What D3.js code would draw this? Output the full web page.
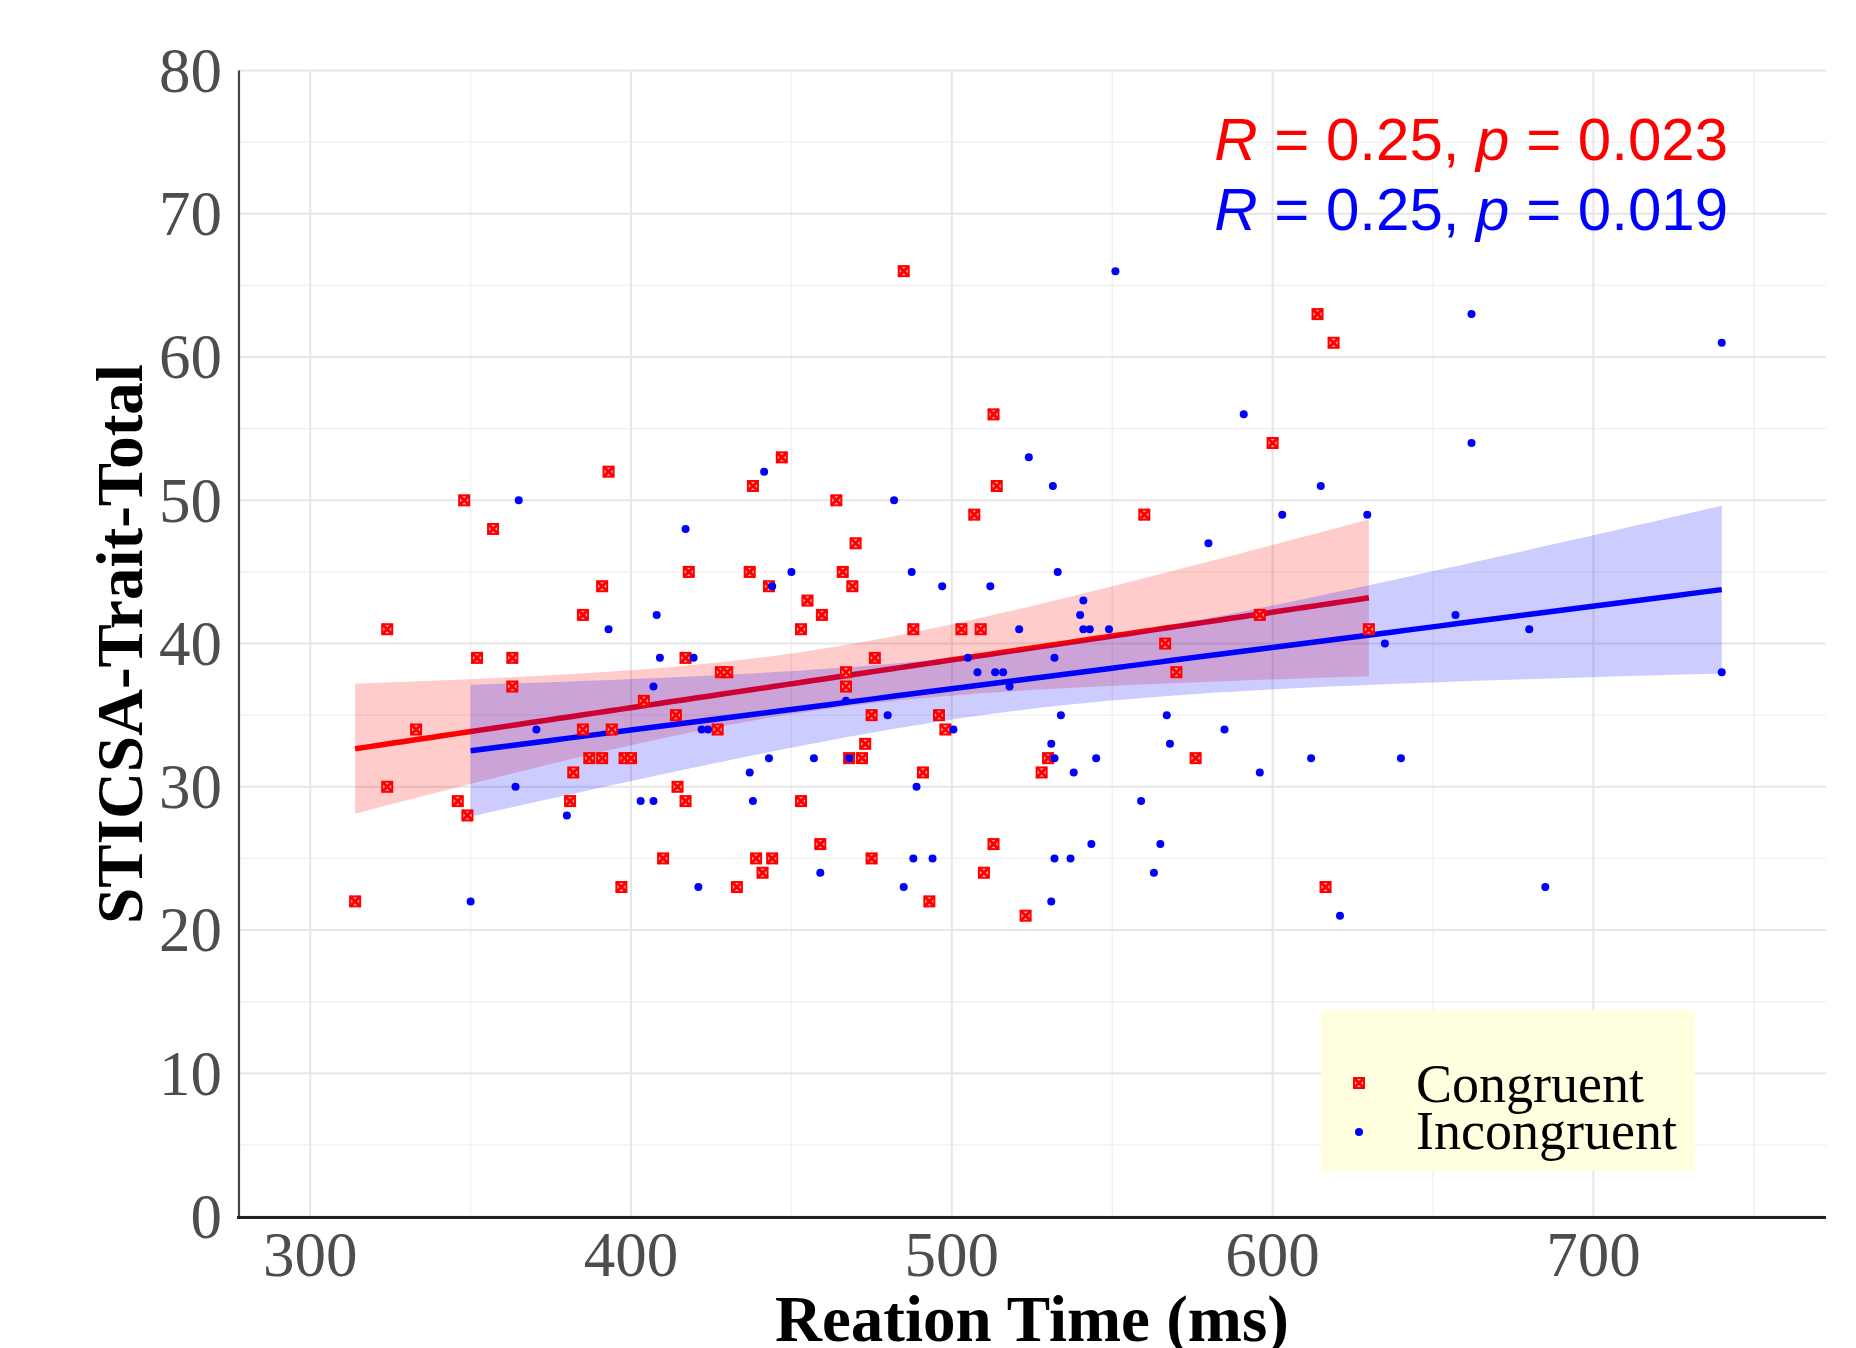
<!DOCTYPE html>
<html>
<head>
<meta charset="utf-8">
<script src="https://cdn.jsdelivr.net/npm/d3@7"></script>
<style>
  body { margin: 0; background: #fff; }
  svg { display: block; }
</style>
</head>
<body>
<div id="chart"></div>
<script>
// reaction time (ms) and STICSA trait score
let congruentRT = [393,348,357,447,438,418,437,391,443,455, 485,513,514,507,560,464,470,466,469,600,
    614,619,324,385,352,363,363,333,324,346, 349,314,417,428,430,404,414,385,394,427,
    387,391,398,400,382,381,414.5,417,453,410, 439,444,441,397,433,453,459.5,488,503,509,
    476,467,467,475,496,498,473,468,472,491, 459,475,493,513,510,523,528,530,566.5,570,
    576,596,630,616.5];
let congruentScore = [52,50,48,53,51,45,45,44,44,43, 66,56,51,49,49,50,47,45,44,54,
    63,61,41,42,39,39,37,34,30,29, 28,22,39,38,38,36,35,34,34,34,
    32,32,32,32,31,29,30,29,29,25, 25,25,24,23,23,41,42,41,41,41,
    39,38,37,35,35,34,33,32,32,31, 26,25,22,26,24,21,31,32,40,38,
    32,42,41,23];
let incongruentRT = [365,441.5,417,450,444,551,591,524,531.5,482, 580,487.5,533,497,512,541,662,740,662,615,
    603,629.5,408,393,409,419.5,407,370.5,422,424, 443,437,364,403,407,438,380,421,350,540,
    541,543,549,521,505,532,508,513.5,516,518, 467,480,534,500.5,457,468,531,532,545,538,
    489,567,585,568,596,559,543.5,565,488,494, 532,537,459,485,563,531,657,680,635,740,
    612,640,685,621];
let incongruentScore = [50,52,48,45,44,66,56,53,51,50, 47,45,45,44,44,43,63,61,54,51,
    49,49,42,41,39,39,37,34,34,34, 32,31,30,29,29,29,28,23,22,42,
    41,41,41,41,39,39,38,38,38,37, 36,35,35,34,32,32,33,32,32,31,
    30,35,34,33,31,29,26,26,25,25, 25,25,24,23,24,22,42,41,40,38,
    32,32,23,21];

let xTicks = [300, 400, 500, 600, 700];
let xMinor = [350, 450, 550, 650, 750];
let yTicks = [0, 10, 20, 30, 40, 50, 60, 70, 80];
let yMinor = [5, 15, 25, 35, 45, 55, 65, 75];
let groups = ["Congruent", "Incongruent"];
let statLabels = [["0.25", "0.023"], ["0.25", "0.019"]];

const W = 1856, H = 1348;
const pLeft = 239, pRight = 1826, pTop = 70.6, pBottom = 1216.5;
const serif = "'Liberation Serif', 'DejaVu Serif', serif";
const sans = "'Liberation Sans', Arial, sans-serif";
const colors = ["#ff0000", "#0000ff"];
const tCrit = 1.989; // t(0.975, df = 82)

let x = d3.scaleLinear().domain([277.8, 772.5]).range([pLeft, pRight]);
let y = d3.scaleLinear().domain([0, 80]).range([pBottom, pTop]);

let svg = d3.select("#chart").append("svg").attr("width", W).attr("height", H);

// grid
let grid = svg.append("g");
grid.selectAll(".vmin").data(xMinor.filter(d => x(d) < pRight)).enter().append("line")
    .attr("x1", d => x(d)).attr("x2", d => x(d)).attr("y1", pTop).attr("y2", pBottom)
    .attr("stroke", "#efefef").attr("stroke-width", 1.3);
grid.selectAll(".hmin").data(yMinor).enter().append("line")
    .attr("x1", pLeft).attr("x2", pRight).attr("y1", d => y(d)).attr("y2", d => y(d))
    .attr("stroke", "#efefef").attr("stroke-width", 1.3);
grid.selectAll(".vmaj").data(xTicks).enter().append("line")
    .attr("x1", d => x(d)).attr("x2", d => x(d)).attr("y1", pTop).attr("y2", pBottom)
    .attr("stroke", "#e6e6e6").attr("stroke-width", 2);
grid.selectAll(".hmaj").data(yTicks).enter().append("line")
    .attr("x1", pLeft).attr("x2", pRight).attr("y1", d => y(d)).attr("y2", d => y(d))
    .attr("stroke", "#e6e6e6").attr("stroke-width", 2);

// linear fit with 95% band, like geom_smooth(method = "lm")
function fit(xs, ys) {
    let n = xs.length;
    let mx = d3.mean(xs), my = d3.mean(ys);
    let sxx = d3.sum(xs, v => (v - mx) * (v - mx));
    let sxy = d3.sum(xs, (v, i) => (v - mx) * (ys[i] - my));
    let b = sxy / sxx, a = my - b * mx;
    let rss = d3.sum(xs, (v, i) => Math.pow(ys[i] - (a + b * v), 2));
    let s = Math.sqrt(rss / (n - 2));
    let lo = d3.min(xs), hi = d3.max(xs);
    return d3.range(0, 81).map(k => {
        let xv = lo + (hi - lo) * k / 80;
        let yv = a + b * xv;
        let se = s * Math.sqrt(1 / n + (xv - mx) * (xv - mx) / sxx);
        return { x: xv, y: yv, lo: yv - tCrit * se, hi: yv + tCrit * se };
    });
}

let fits = [fit(congruentRT, congruentScore), fit(incongruentRT, incongruentScore)];
let area = d3.area().x(d => x(d.x)).y0(d => y(d.lo)).y1(d => y(d.hi));
let line = d3.line().x(d => x(d.x)).y(d => y(d.y));

fits.forEach((f, i) => {
    svg.append("path").datum(f).attr("d", area).attr("fill", colors[i]).attr("fill-opacity", 0.2);
    svg.append("path").datum(f).attr("d", line).attr("fill", "none")
        .attr("stroke", colors[i]).attr("stroke-width", 5.5);
});

// points
function squareCross(g, cx, cy, s) {
    let h = s / 2;
    g.append("rect").attr("x", cx - h).attr("y", cy - h).attr("width", s).attr("height", s)
        .attr("fill", "#ffb0b0").attr("stroke", "#ff0000").attr("stroke-width", 2);
    g.append("path").attr("d", `M${cx - h},${cy - h}L${cx + h},${cy + h}M${cx - h},${cy + h}L${cx + h},${cy - h}`)
        .attr("stroke", "#ff0000").attr("stroke-width", 3);
}

let pts = svg.append("g");
congruentRT.forEach((v, i) => squareCross(pts, x(v), y(congruentScore[i]), 10));
pts.selectAll("circle").data(incongruentRT).enter().append("circle")
    .attr("cx", d => x(d)).attr("cy", (d, i) => y(incongruentScore[i])).attr("r", 4)
    .attr("fill", "#0000ff");

// axes lines
svg.append("line").attr("x1", pLeft).attr("x2", pLeft).attr("y1", pTop).attr("y2", pBottom + 1)
    .attr("stroke", "#444").attr("stroke-width", 2.2);
svg.append("line").attr("x1", pLeft - 2).attr("x2", pRight).attr("y1", pBottom + 1).attr("y2", pBottom + 1)
    .attr("stroke", "#222").attr("stroke-width", 3);

// tick labels
svg.selectAll(".xt").data(xTicks).enter().append("text")
    .attr("x", d => x(d)).attr("y", 1276).attr("text-anchor", "middle")
    .attr("font-family", serif).attr("font-size", 63).attr("fill", "#4d4d4d").text(d => d);
svg.selectAll(".yt").data(yTicks).enter().append("text")
    .attr("x", 222).attr("y", d => y(d)).attr("dy", "0.34em").attr("text-anchor", "end")
    .attr("font-family", serif).attr("font-size", 63).attr("fill", "#4d4d4d").text(d => d);

// axis titles
svg.append("text").attr("x", 1032).attr("y", 1341).attr("text-anchor", "middle")
    .attr("font-family", serif).attr("font-weight", "bold").attr("font-size", 65)
    .text("Reation Time (ms)");
svg.append("text").attr("transform", "translate(142,644) rotate(-90)").attr("text-anchor", "middle")
    .attr("font-family", serif).attr("font-weight", "bold").attr("font-size", 65)
    .text("STICSA-Trait-Total");

// correlation labels
[160, 230].forEach((by, i) => {
    let t = svg.append("text").attr("x", 1728).attr("y", by).attr("text-anchor", "end")
        .attr("font-family", sans).attr("font-size", 60).attr("fill", colors[i]);
    t.append("tspan").attr("font-style", "italic").text("R");
    t.append("tspan").text(" = " + statLabels[i][0] + ", ");
    t.append("tspan").attr("font-style", "italic").text("p");
    t.append("tspan").text(" = " + statLabels[i][1]);
});

// legend
let lg = svg.append("g");
lg.append("rect").attr("x", 1321).attr("y", 1010).attr("width", 374).attr("height", 161)
    .attr("fill", "#ffffe0");
squareCross(lg, 1359, 1083, 10);
lg.append("circle").attr("cx", 1359).attr("cy", 1132).attr("r", 4).attr("fill", "#0000ff");
groups.forEach((g, i) => {
    lg.append("text").attr("x", 1416).attr("y", 1102 + i * 47)
        .attr("font-family", serif).attr("font-size", 54).attr("fill", "#000").text(g);
});
</script>
</body>
</html>
